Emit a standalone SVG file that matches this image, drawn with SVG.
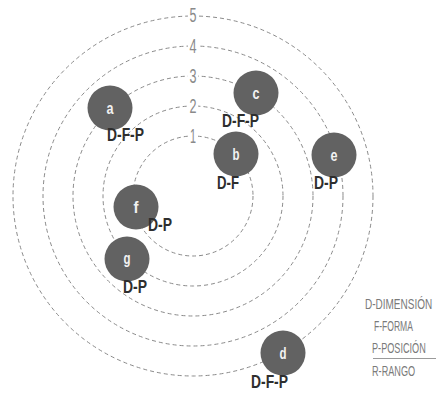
<svg xmlns="http://www.w3.org/2000/svg" width="436" height="398" viewBox="0 0 436 398">
<style>
.ring{fill:none;stroke:#8a8a8a;stroke-width:1;stroke-dasharray:4 3}
.num{font-family:"Liberation Sans Narrow","Liberation Sans",sans-serif;font-size:20px;fill:#8a8a8a;text-anchor:middle}
.node{fill:#626262}
.nl{font-family:"Liberation Sans Narrow","Liberation Sans",sans-serif;font-size:17px;font-weight:bold;fill:#f2f2f2;text-anchor:middle}
.lab{font-family:"Liberation Sans Narrow","Liberation Sans",sans-serif;font-size:18px;font-weight:bold;fill:#2e2e2e}
.leg{font-family:"Liberation Sans",sans-serif;font-size:14.5px;fill:#7a7a7a}
</style>
<rect width="436" height="398" fill="#fff"/>
<g id="connectors">
<circle class="ring" cx="193" cy="196" r="60"/>
<circle class="ring" cx="193" cy="196" r="90"/>
<circle class="ring" cx="193" cy="196" r="120"/>
<circle class="ring" cx="193" cy="196" r="150"/>
<circle class="ring" cx="193" cy="196" r="180"/>
<rect x="188" y="128" width="10" height="16" fill="#fff"/>
<rect x="188" y="98" width="10" height="16" fill="#fff"/>
<rect x="188" y="68" width="10" height="16" fill="#fff"/>
<rect x="188" y="38" width="10" height="16" fill="#fff"/>
<rect x="188" y="8" width="10" height="16" fill="#fff"/>
<text class="num" x="193" y="143" textLength="6" lengthAdjust="spacingAndGlyphs">1</text>
<text class="num" x="193" y="113" textLength="7" lengthAdjust="spacingAndGlyphs">2</text>
<text class="num" x="193" y="83" textLength="7" lengthAdjust="spacingAndGlyphs">3</text>
<text class="num" x="193" y="53" textLength="7" lengthAdjust="spacingAndGlyphs">4</text>
<text class="num" x="193" y="22" textLength="7" lengthAdjust="spacingAndGlyphs">5</text>
</g>
<g id="node-a"><circle class="node" cx="110" cy="108" r="22.5"/><text class="nl" x="110" y="114" textLength="7" lengthAdjust="spacingAndGlyphs">a</text><text class="lab" x="107" y="141" textLength="37" lengthAdjust="spacingAndGlyphs">D-F-P</text></g>
<g id="node-c"><circle class="node" cx="256" cy="93" r="22.5"/><text class="nl" x="256" y="99" textLength="7" lengthAdjust="spacingAndGlyphs">c</text><text class="lab" x="222" y="127" textLength="37" lengthAdjust="spacingAndGlyphs">D-F-P</text></g>
<g id="node-b"><circle class="node" cx="236" cy="154" r="22.5"/><text class="nl" x="236" y="160" textLength="7" lengthAdjust="spacingAndGlyphs">b</text><text class="lab" x="217" y="189" textLength="22" lengthAdjust="spacingAndGlyphs">D-F</text></g>
<g id="node-e"><circle class="node" cx="334" cy="155" r="22.5"/><text class="nl" x="334" y="161" textLength="7" lengthAdjust="spacingAndGlyphs">e</text><text class="lab" x="314" y="189" textLength="24" lengthAdjust="spacingAndGlyphs">D-P</text></g>
<g id="node-f"><circle class="node" cx="136" cy="207" r="22.5"/><text class="nl" x="136" y="213" textLength="5" lengthAdjust="spacingAndGlyphs">f</text><text class="lab" x="148" y="231" textLength="24" lengthAdjust="spacingAndGlyphs">D-P</text></g>
<g id="node-g"><circle class="node" cx="127" cy="259" r="22.5"/><text class="nl" x="127" y="264" textLength="7" lengthAdjust="spacingAndGlyphs">g</text><text class="lab" x="123" y="293" textLength="24" lengthAdjust="spacingAndGlyphs">D-P</text></g>
<g id="node-d"><circle class="node" cx="283" cy="353" r="22.5"/><text class="nl" x="283" y="359" textLength="7" lengthAdjust="spacingAndGlyphs">d</text><text class="lab" x="251" y="388" textLength="37" lengthAdjust="spacingAndGlyphs">D-F-P</text></g>
<g id="legend">
<text class="leg" transform="translate(365,309) scale(0.69,1)">D-DIMENSIÓN</text>
<text class="leg" transform="translate(374,331) scale(0.59,1)">F-FORMA</text>
<text class="leg" transform="translate(372,353) scale(0.63,1)">P-POSICIÓN</text>
<line x1="373" y1="358.5" x2="436" y2="358.5" stroke="#9a9a9a" stroke-width="1"/>
<text class="leg" transform="translate(372,376) scale(0.63,1)">R-RANGO</text>
</g>
</svg>
